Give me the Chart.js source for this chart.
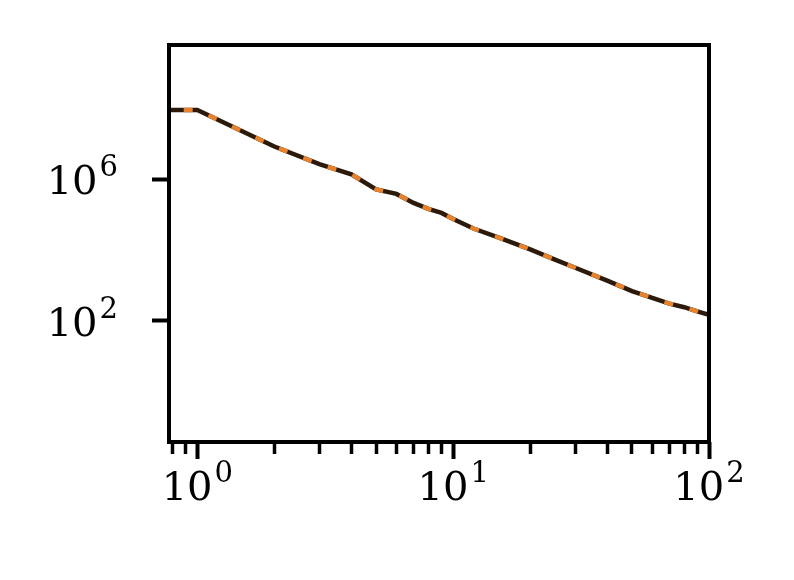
<!DOCTYPE html>
<html>
<head>
<meta charset="utf-8">
<script src="https://cdn.jsdelivr.net/npm/chart.js@4/dist/chart.umd.min.js"></script>
<style>
  html, body { margin: 0; padding: 0; background: #fff; }
  #wrap { width: 794px; height: 580px; }
</style>
</head>
<body>
<div id="wrap"><canvas id="decayChart" width="794" height="580"></canvas></div>
<script>
// values (log-log)
const xVals = [0.7, 1, 2, 3, 4, 5, 6, 7, 8, 9, 10, 12, 15, 20, 25, 30, 40, 50, 60, 70, 80, 90, 100];
const yVals = [9.2e7, 9.2e7, 8.5e6, 2.7e6, 1.4e6, 5.2e5, 3.9e5, 2.17e5, 1.47e5, 1.13e5, 7.6e4, 4.1e4, 2.3e4,
               1.05e4, 5.4e3, 3.2e3, 1.38e3, 700, 447, 310, 245, 186, 148];

const xMajorTicks = [1, 10, 100];
const xMinorTicks = [0.8, 0.9, 2, 3, 4, 5, 6, 7, 8, 9, 20, 30, 40, 50, 60, 70, 80, 90];
const yMajorTicks = [1e2, 1e6];

const xMin = 0.775, xMax = 100;
const yMin = 0.038, yMax = 6.3e9;

const points = xVals.map((x, i) => ({ x, y: yVals[i] }));
const FONT = '"DejaVu Serif", serif';

// power-of-ten labels with a raised exponent, plus the box frame
const frameAndLabels = {
    id: 'frameAndLabels',
    afterDraw(chart) {
        const { ctx, chartArea: a } = chart;
        const xs = chart.scales.x, ys = chart.scales.y;
        ctx.save();
        ctx.strokeStyle = '#000';
        ctx.lineWidth = 4;
        ctx.strokeRect(a.left, a.top, a.right - a.left, a.bottom - a.top);

        ctx.fillStyle = '#000';
        ctx.textBaseline = 'alphabetic';
        ctx.textAlign = 'left';
        const drawPow = (v, px, py, anchor) => {
            const exp = String(Math.round(Math.log10(v)));
            ctx.font = '40px ' + FONT;
            const wBase = ctx.measureText('10').width;
            ctx.font = '29px ' + FONT;
            const wExp = ctx.measureText(exp).width;
            const w = wBase + 2 + wExp;
            const left = anchor === 'center' ? px - w / 2 : px - w;
            ctx.font = '40px ' + FONT;
            ctx.fillText('10', left, py);
            ctx.font = '29px ' + FONT;
            ctx.fillText(exp, left + wBase + 2, py - 18);
        };
        xMajorTicks.forEach(v => drawPow(v, xs.getPixelForValue(v), a.bottom + 58, 'center'));
        yMajorTicks.forEach(v => drawPow(v, a.left - 51, ys.getPixelForValue(v) + 15, 'right'));
        ctx.restore();
    }
};

const ctx = document.getElementById('decayChart');
new Chart(ctx, {
    type: 'line',
    data: {
        datasets: [
            {
                data: points,
                borderColor: '#2b1a0a',
                borderWidth: 4.5,
                pointRadius: 0,
                tension: 0,
                clip: 0,
                order: 2
            },
            {
                data: points,
                borderColor: '#e6832e',
                borderWidth: 4.5,
                borderDash: [9, 17],
                pointRadius: 0,
                tension: 0,
                clip: 0,
                order: 1
            }
        ]
    },
    options: {
        responsive: false,
        animation: false,
        layout: { padding: { top: 45, right: 85, left: 0, bottom: 0 } },
        plugins: { legend: { display: false }, tooltip: { enabled: false } },
        scales: {
            x: {
                type: 'logarithmic', min: xMin, max: xMax, position: 'bottom', weight: 1,
                afterBuildTicks: s => { s.ticks = xMajorTicks.map(v => ({ value: v, major: true })); },
                afterFit: s => { s.height = 138; },
                ticks: { display: false },
                border: { display: false },
                grid: { drawOnChartArea: false, drawTicks: true, tickLength: 17, tickWidth: 4, tickColor: '#000' }
            },
            xm: {
                type: 'logarithmic', min: xMin, max: xMax, position: 'bottom', weight: 0,
                afterBuildTicks: s => { s.ticks = xMinorTicks.map(v => ({ value: v })); },
                afterFit: s => { s.height = 0; },
                ticks: { display: false },
                border: { display: false },
                grid: { drawOnChartArea: false, drawTicks: true, tickLength: 12, tickWidth: 3.5, tickColor: '#000' }
            },
            y: {
                type: 'logarithmic', min: yMin, max: yMax, position: 'left',
                afterBuildTicks: s => { s.ticks = yMajorTicks.map(v => ({ value: v, major: true })); },
                afterFit: s => { s.width = 169; },
                ticks: { display: false },
                border: { display: false },
                grid: { drawOnChartArea: false, drawTicks: true, tickLength: 17, tickWidth: 4, tickColor: '#000' }
            }
        }
    },
    plugins: [frameAndLabels]
});
</script>
</body>
</html>
